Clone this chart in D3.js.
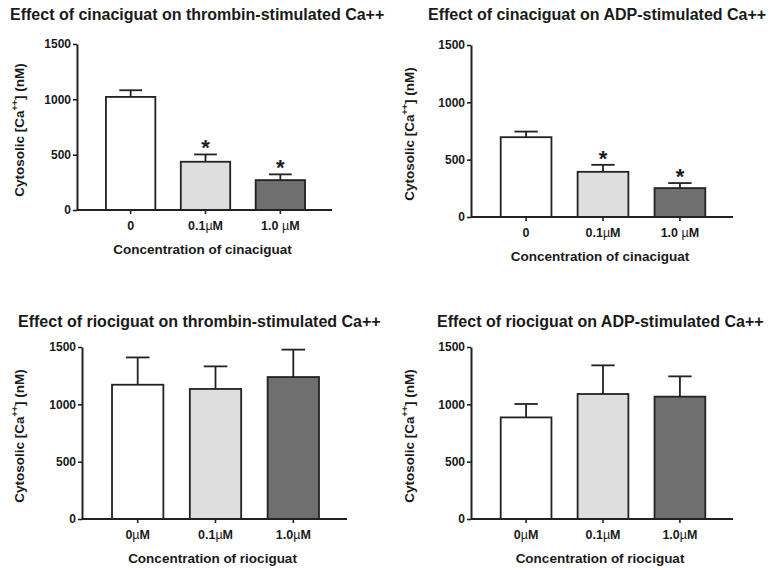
<!DOCTYPE html>
<html>
<head>
<meta charset="utf-8">
<script src="https://cdn.jsdelivr.net/npm/d3@7"></script>
<style>
  body { margin: 0; background: #fff; }
  text { font-family: "Liberation Sans", Arial, sans-serif; fill: #1a1a1a; }
</style>
</head>
<body>
<script>
var width = 781, height = 570

// data
var titles = [
  "Effect of cinaciguat on thrombin-stimulated Ca++",
  "Effect of cinaciguat on ADP-stimulated Ca++",
  "Effect of riociguat on thrombin-stimulated Ca++",
  "Effect of riociguat on ADP-stimulated Ca++"
]
var xTitles = ["Concentration of cinaciguat", "Concentration of cinaciguat",
               "Concentration of riociguat", "Concentration of riociguat"]
var catsCina = [["0", ""], ["0.1", "M"], ["1.0 ", "M"]]
var catsRio = [["0", "M"], ["0.1", "M"], ["1.0", "M"]]
var means = [
  [1022, 436, 270],
  [696, 394, 252],
  [1171, 1134, 1238],
  [886, 1090, 1067]
]
var sems = [
  [60, 66, 52],
  [49, 61, 44],
  [238, 197, 239],
  [117, 250, 177]
]
var stars = [
  [false, true, true],
  [false, true, true],
  [false, false, false],
  [false, false, false]
]
var yTicks = [0, 500, 1000, 1500]
var fills = ["#ffffff", "#dedede", "#6f6f6f"]

// panel frames (axis x, top of 1500, y of 0, right end of x axis)
var frames = [
  {ax: 77, top: 44, bot: 210, right: 332, tx: 10, ty: 20, yt: 19},
  {ax: 471, top: 45, bot: 217, right: 733, tx: 428, ty: 20, yt: 409},
  {ax: 82, top: 347, bot: 519, right: 347, tx: 18, ty: 327, yt: 19},
  {ax: 471, top: 347, bot: 519, right: 733, tx: 437, ty: 327, yt: 409}
]

var svg = d3.select("body").append("svg")
    .attr("width", width)
    .attr("height", height)

frames.forEach(function(f, p) {
  var cats = p < 2 ? catsCina : catsRio
  var idx = d3.range(3)

  var x = d3.scaleBand()
      .domain(idx)
      .range([f.ax + 2, f.right])
      .paddingInner(0.34)
      .paddingOuter(0.36)

  var y = d3.scaleLinear()
      .domain([0, 1500])
      .range([f.bot, f.top])

  var g = svg.append("g")

  g.append("text")
      .attr("x", f.tx)
      .attr("y", f.ty)
      .style("font-size", "16px")
      .style("font-weight", "bold")
      .text(titles[p])

  // bars
  var bar = g.selectAll(".bar")
      .data(idx)
    .enter().append("g")
      .attr("class", "bar")

  // error bars (upper only)
  bar.append("line")
      .attr("x1", function(i) { return x(i) + x.bandwidth() / 2 })
      .attr("x2", function(i) { return x(i) + x.bandwidth() / 2 })
      .attr("y1", function(i) { return y(means[p][i]) })
      .attr("y2", function(i) { return y(means[p][i] + sems[p][i]) })
      .attr("stroke", "#222")
      .attr("stroke-width", 1.8)

  bar.append("line")
      .attr("x1", function(i) { return x(i) + x.bandwidth() * 0.27 })
      .attr("x2", function(i) { return x(i) + x.bandwidth() * 0.73 })
      .attr("y1", function(i) { return y(means[p][i] + sems[p][i]) })
      .attr("y2", function(i) { return y(means[p][i] + sems[p][i]) })
      .attr("stroke", "#222")
      .attr("stroke-width", 1.8)

  bar.append("rect")
      .attr("x", function(i) { return x(i) })
      .attr("width", x.bandwidth())
      .attr("y", function(i) { return y(means[p][i]) })
      .attr("height", function(i) { return y(0) - y(means[p][i]) })
      .attr("fill", function(i) { return fills[i] })
      .attr("stroke", "#222")
      .attr("stroke-width", 1.8)

  bar.filter(function(i) { return stars[p][i] })
    .append("text")
      .attr("x", function(i) { return x(i) + x.bandwidth() / 2 })
      .attr("y", function(i) { return y(means[p][i] + sems[p][i]) + 1 })
      .attr("text-anchor", "middle")
      .style("font-size", "22px")
      .style("font-weight", "bold")
      .text("*")

  // y axis
  var ya = g.append("g")
      .attr("transform", "translate(" + f.ax + ",0)")
      .call(d3.axisLeft(y).tickValues(yTicks).tickFormat(d3.format("d"))
        .tickSize(4).tickSizeOuter(0).tickPadding(2))
  ya.select(".domain").attr("stroke", "#222").attr("stroke-width", 2)
  ya.selectAll(".tick line").attr("stroke", "#222").attr("stroke-width", 1.6)
  ya.selectAll(".tick text")
      .style("font-family", "'Liberation Sans', Arial, sans-serif")
      .style("font-size", "12px")
      .style("font-weight", "bold")
      .attr("fill", "#1a1a1a")

  // x axis
  var xa = g.append("g")
      .attr("transform", "translate(0," + f.bot + ")")
      .call(d3.axisBottom(x).tickSize(4).tickSizeOuter(0).tickFormat(""))
  xa.select(".domain")
      .attr("d", "M" + f.ax + ",0H" + f.right)
      .attr("stroke", "#222").attr("stroke-width", 2.2)
  xa.selectAll(".tick line").attr("stroke", "#222").attr("stroke-width", 1.6)

  var lab = g.selectAll(".xlab")
      .data(idx)
    .enter().append("text")
      .attr("class", "xlab")
      .attr("x", function(i) { return x(i) + x.bandwidth() / 2 })
      .attr("y", f.bot + 20)
      .attr("text-anchor", "middle")
      .style("font-size", "12.5px")
      .style("font-weight", "bold")
  lab.append("tspan").text(function(i) { return cats[i][0] })
  lab.filter(function(i) { return cats[i][1] !== "" })
    .append("tspan").style("font-weight", "normal").text("\u00b5")
  lab.append("tspan").text(function(i) { return cats[i][1] })

  g.append("text")
      .attr("x", (f.ax + f.right) / 2 - 2)
      .attr("y", f.bot + 44)
      .attr("text-anchor", "middle")
      .style("font-size", "13.5px")
      .style("font-weight", "bold")
      .text(xTitles[p])

  var yl = g.append("text")
      .attr("transform", "translate(" + (f.yt + 5) + "," + ((f.top + f.bot) / 2 + 3) + ") rotate(-90)")
      .attr("text-anchor", "middle")
      .style("font-size", "13.5px")
      .style("font-weight", "bold")
  yl.append("tspan").text("Cytosolic [Ca")
  yl.append("tspan").attr("dy", -6).style("font-size", "9px").text("++")
  yl.append("tspan").attr("dy", 6).text("] (nM)")
})
</script>
</body>
</html>
